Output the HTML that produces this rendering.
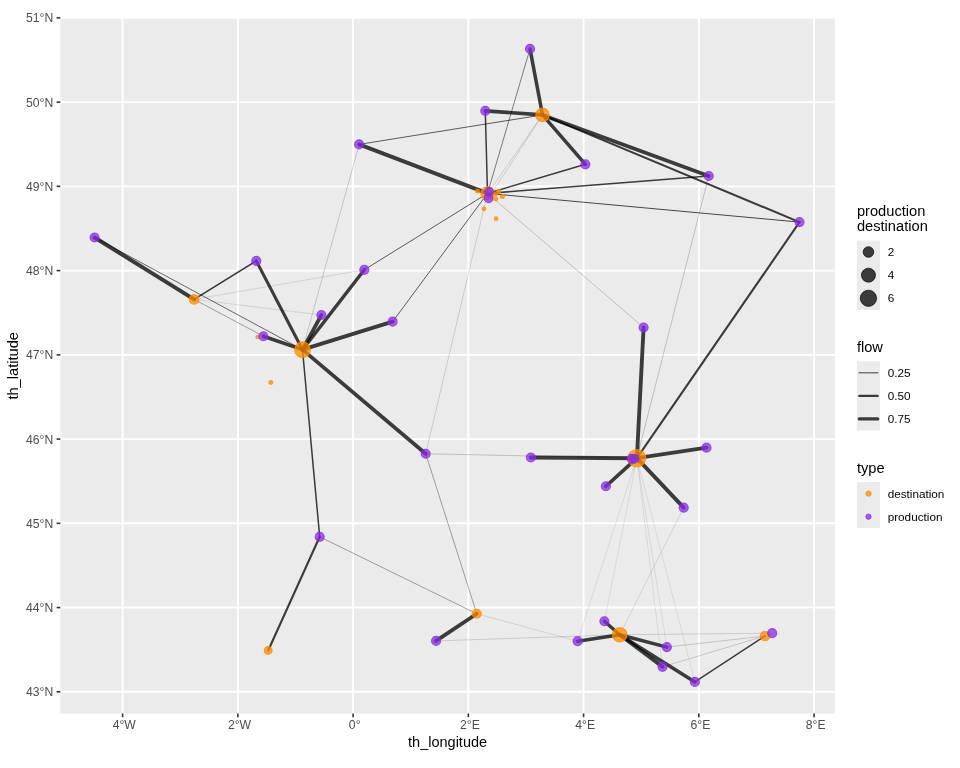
<!DOCTYPE html><html><head><meta charset="utf-8"><style>html,body{margin:0;padding:0;background:#fff;width:960px;height:768px;overflow:hidden}svg{display:block;will-change:transform}text{font-family:"Liberation Sans",sans-serif}</style></head><body>
<svg width="960" height="768" viewBox="0 0 960 768">
<rect width="960" height="768" fill="#fff"/>
<rect x="60.3" y="17.8" width="774.60" height="695.70" fill="#EBEBEB"/>
<g stroke="#fff" stroke-width="1.9">
<line x1="122.62" y1="17.8" x2="122.62" y2="713.5"/>
<line x1="237.86" y1="17.8" x2="237.86" y2="713.5"/>
<line x1="353.10" y1="17.8" x2="353.10" y2="713.5"/>
<line x1="468.34" y1="17.8" x2="468.34" y2="713.5"/>
<line x1="583.58" y1="17.8" x2="583.58" y2="713.5"/>
<line x1="698.82" y1="17.8" x2="698.82" y2="713.5"/>
<line x1="814.06" y1="17.8" x2="814.06" y2="713.5"/>
<line x1="60.3" y1="691.80" x2="834.9" y2="691.80"/>
<line x1="60.3" y1="607.56" x2="834.9" y2="607.56"/>
<line x1="60.3" y1="523.32" x2="834.9" y2="523.32"/>
<line x1="60.3" y1="439.08" x2="834.9" y2="439.08"/>
<line x1="60.3" y1="354.84" x2="834.9" y2="354.84"/>
<line x1="60.3" y1="270.60" x2="834.9" y2="270.60"/>
<line x1="60.3" y1="186.36" x2="834.9" y2="186.36"/>
<line x1="60.3" y1="102.12" x2="834.9" y2="102.12"/>
<line x1="60.3" y1="17.88" x2="834.9" y2="17.88"/>
</g>
<g stroke="#000" stroke-opacity="0.75" stroke-linecap="round">
<line x1="530.0" y1="48.9" x2="542.5" y2="114.9" stroke-width="3.487"/>
<line x1="530.0" y1="48.9" x2="487.5" y2="193.4" stroke-width="0.644"/>
<line x1="485.3" y1="110.9" x2="542.5" y2="114.9" stroke-width="3.676"/>
<line x1="485.3" y1="110.9" x2="487.5" y2="193.4" stroke-width="1.516"/>
<line x1="585.4" y1="164.3" x2="542.5" y2="114.9" stroke-width="3.487"/>
<line x1="585.4" y1="164.3" x2="487.5" y2="193.4" stroke-width="1.516"/>
<line x1="359.1" y1="144.4" x2="487.5" y2="193.4" stroke-width="3.866"/>
<line x1="359.1" y1="144.4" x2="542.5" y2="114.9" stroke-width="0.834"/>
<line x1="359.1" y1="144.4" x2="302.5" y2="349.7" stroke-width="0.227"/>
<line x1="708.75" y1="176.0" x2="542.5" y2="114.9" stroke-width="3.676"/>
<line x1="708.75" y1="176.0" x2="487.5" y2="193.4" stroke-width="1.516"/>
<line x1="708.75" y1="176.0" x2="636.9" y2="458.2" stroke-width="0.265"/>
<line x1="799.5" y1="222.1" x2="542.5" y2="114.9" stroke-width="2.085"/>
<line x1="799.5" y1="222.1" x2="487.5" y2="193.4" stroke-width="0.948"/>
<line x1="799.5" y1="222.1" x2="636.9" y2="458.2" stroke-width="2.085"/>
<line x1="489.0" y1="191.8" x2="542.5" y2="114.9" stroke-width="0.190"/>
<line x1="488.6" y1="198.2" x2="542.5" y2="114.9" stroke-width="0.190"/>
<line x1="425.7" y1="453.75" x2="487.5" y2="193.4" stroke-width="0.190"/>
<line x1="643.6" y1="327.5" x2="487.5" y2="193.4" stroke-width="0.265"/>
<line x1="364.3" y1="269.8" x2="487.5" y2="193.4" stroke-width="0.834"/>
<line x1="392.6" y1="321.7" x2="487.5" y2="193.4" stroke-width="0.834"/>
<line x1="94.6" y1="237.5" x2="194.15" y2="299.4" stroke-width="3.980"/>
<line x1="94.6" y1="237.5" x2="302.5" y2="349.7" stroke-width="0.758"/>
<line x1="256.25" y1="260.9" x2="194.15" y2="299.4" stroke-width="1.706"/>
<line x1="256.25" y1="260.9" x2="302.5" y2="349.7" stroke-width="3.108"/>
<line x1="263.4" y1="336.25" x2="194.15" y2="299.4" stroke-width="0.455"/>
<line x1="263.4" y1="336.25" x2="302.5" y2="349.7" stroke-width="3.487"/>
<line x1="364.3" y1="269.8" x2="194.15" y2="299.4" stroke-width="0.152"/>
<line x1="321.4" y1="315.0" x2="194.15" y2="299.4" stroke-width="0.152"/>
<line x1="364.3" y1="269.8" x2="302.5" y2="349.7" stroke-width="3.487"/>
<line x1="321.4" y1="315.0" x2="302.5" y2="349.7" stroke-width="3.676"/>
<line x1="392.6" y1="321.7" x2="302.5" y2="349.7" stroke-width="3.866"/>
<line x1="425.7" y1="453.75" x2="302.5" y2="349.7" stroke-width="3.676"/>
<line x1="319.7" y1="536.8" x2="302.5" y2="349.7" stroke-width="1.516"/>
<line x1="319.7" y1="536.8" x2="268.2" y2="650.45" stroke-width="2.085"/>
<line x1="319.7" y1="536.8" x2="476.8" y2="613.75" stroke-width="0.455"/>
<line x1="425.7" y1="453.75" x2="476.8" y2="613.75" stroke-width="0.455"/>
<line x1="425.7" y1="453.75" x2="636.9" y2="458.2" stroke-width="0.265"/>
<line x1="530.9" y1="457.5" x2="636.9" y2="458.2" stroke-width="4.055"/>
<line x1="643.6" y1="327.5" x2="636.9" y2="458.2" stroke-width="3.866"/>
<line x1="706.5" y1="447.7" x2="636.9" y2="458.2" stroke-width="3.866"/>
<line x1="605.9" y1="486.25" x2="636.9" y2="458.2" stroke-width="3.676"/>
<line x1="683.7" y1="507.7" x2="636.9" y2="458.2" stroke-width="3.866"/>
<line x1="577.6" y1="641.2" x2="636.9" y2="458.2" stroke-width="0.114"/>
<line x1="604.4" y1="621.25" x2="636.9" y2="458.2" stroke-width="0.114"/>
<line x1="666.9" y1="647.1" x2="636.9" y2="458.2" stroke-width="0.114"/>
<line x1="662.5" y1="666.8" x2="636.9" y2="458.2" stroke-width="0.114"/>
<line x1="694.9" y1="681.9" x2="636.9" y2="458.2" stroke-width="0.114"/>
<line x1="683.7" y1="507.7" x2="619.75" y2="634.75" stroke-width="0.152"/>
<line x1="436.05" y1="640.9" x2="476.8" y2="613.75" stroke-width="3.866"/>
<line x1="577.6" y1="641.2" x2="476.8" y2="613.75" stroke-width="0.152"/>
<line x1="436.05" y1="640.9" x2="619.75" y2="634.75" stroke-width="0.190"/>
<line x1="577.6" y1="641.2" x2="619.75" y2="634.75" stroke-width="3.487"/>
<line x1="604.4" y1="621.25" x2="619.75" y2="634.75" stroke-width="3.297"/>
<line x1="666.9" y1="647.1" x2="619.75" y2="634.75" stroke-width="3.487"/>
<line x1="662.5" y1="666.8" x2="619.75" y2="634.75" stroke-width="3.866"/>
<line x1="694.9" y1="681.9" x2="619.75" y2="634.75" stroke-width="3.487"/>
<line x1="694.9" y1="681.9" x2="765.0" y2="636.0" stroke-width="1.516"/>
<line x1="666.9" y1="647.1" x2="765.0" y2="636.0" stroke-width="0.227"/>
<line x1="662.5" y1="666.8" x2="765.0" y2="636.0" stroke-width="0.227"/>
<line x1="772.2" y1="633.2" x2="619.75" y2="634.75" stroke-width="0.190"/>
</g>
<g fill="#FF8C00" fill-opacity="0.75" stroke="#FF8C00" stroke-opacity="0.75" stroke-width="1.1">
<circle cx="542.5" cy="114.9" r="6.75"/>
<circle cx="487.5" cy="193.4" r="6.75"/>
<circle cx="477.5" cy="191.0" r="1.95"/>
<circle cx="498.8" cy="191.3" r="1.95"/>
<circle cx="495.5" cy="194.5" r="1.85"/>
<circle cx="502.4" cy="196.5" r="1.95"/>
<circle cx="495.8" cy="199.0" r="1.85"/>
<circle cx="484.0" cy="208.8" r="1.85"/>
<circle cx="496.1" cy="218.65" r="1.85"/>
<circle cx="194.15" cy="299.4" r="4.90"/>
<circle cx="302.5" cy="349.7" r="7.85"/>
<circle cx="257.6" cy="337.0" r="1.75"/>
<circle cx="270.8" cy="382.5" r="1.95"/>
<circle cx="636.9" cy="458.2" r="8.75"/>
<circle cx="268.2" cy="650.45" r="3.90"/>
<circle cx="476.8" cy="613.75" r="4.55"/>
<circle cx="619.75" cy="634.75" r="7.25"/>
<circle cx="765.0" cy="636.0" r="4.70"/>
</g>
<g fill="#8A2BE2" fill-opacity="0.75" stroke="#8A2BE2" stroke-opacity="0.75" stroke-width="1.1">
<circle cx="530.0" cy="48.9" r="4.55"/>
<circle cx="485.3" cy="110.9" r="4.55"/>
<circle cx="585.4" cy="164.3" r="4.55"/>
<circle cx="359.1" cy="144.4" r="4.55"/>
<circle cx="708.75" cy="176.0" r="4.55"/>
<circle cx="799.5" cy="222.1" r="4.55"/>
<circle cx="489.0" cy="191.8" r="4.40"/>
<circle cx="488.6" cy="198.2" r="4.40"/>
<circle cx="94.6" cy="237.5" r="4.55"/>
<circle cx="256.25" cy="260.9" r="4.55"/>
<circle cx="364.3" cy="269.8" r="4.55"/>
<circle cx="321.4" cy="315.0" r="4.55"/>
<circle cx="392.6" cy="321.7" r="4.55"/>
<circle cx="263.4" cy="336.25" r="4.55"/>
<circle cx="643.6" cy="327.5" r="4.55"/>
<circle cx="425.7" cy="453.75" r="4.55"/>
<circle cx="530.9" cy="457.5" r="4.55"/>
<circle cx="631.6" cy="458.8" r="4.45"/>
<circle cx="634.4" cy="458.8" r="4.45"/>
<circle cx="706.5" cy="447.7" r="4.55"/>
<circle cx="605.9" cy="486.25" r="4.55"/>
<circle cx="683.7" cy="507.7" r="4.55"/>
<circle cx="319.7" cy="536.8" r="4.55"/>
<circle cx="436.05" cy="640.9" r="4.55"/>
<circle cx="577.6" cy="641.2" r="4.55"/>
<circle cx="604.4" cy="621.25" r="4.55"/>
<circle cx="666.9" cy="647.1" r="4.55"/>
<circle cx="662.5" cy="666.8" r="4.55"/>
<circle cx="694.9" cy="681.9" r="4.55"/>
<circle cx="772.2" cy="633.2" r="4.55"/>
</g>
<g stroke="#333" stroke-width="1.6">
<line x1="122.62" y1="713.5" x2="122.62" y2="717.17"/>
<line x1="237.86" y1="713.5" x2="237.86" y2="717.17"/>
<line x1="353.10" y1="713.5" x2="353.10" y2="717.17"/>
<line x1="468.34" y1="713.5" x2="468.34" y2="717.17"/>
<line x1="583.58" y1="713.5" x2="583.58" y2="717.17"/>
<line x1="698.82" y1="713.5" x2="698.82" y2="717.17"/>
<line x1="814.06" y1="713.5" x2="814.06" y2="717.17"/>
<line x1="56.63" y1="691.80" x2="60.3" y2="691.80"/>
<line x1="56.63" y1="607.56" x2="60.3" y2="607.56"/>
<line x1="56.63" y1="523.32" x2="60.3" y2="523.32"/>
<line x1="56.63" y1="439.08" x2="60.3" y2="439.08"/>
<line x1="56.63" y1="354.84" x2="60.3" y2="354.84"/>
<line x1="56.63" y1="270.60" x2="60.3" y2="270.60"/>
<line x1="56.63" y1="186.36" x2="60.3" y2="186.36"/>
<line x1="56.63" y1="102.12" x2="60.3" y2="102.12"/>
<line x1="56.63" y1="17.88" x2="60.3" y2="17.88"/>
</g>
<g fill="#4D4D4D" font-size="12.2px">
<text x="124.22" y="729" text-anchor="middle">4°W</text>
<text x="239.46" y="729" text-anchor="middle">2°W</text>
<text x="354.70" y="729" text-anchor="middle">0°</text>
<text x="469.94" y="729" text-anchor="middle">2°E</text>
<text x="585.18" y="729" text-anchor="middle">4°E</text>
<text x="700.42" y="729" text-anchor="middle">6°E</text>
<text x="815.66" y="729" text-anchor="middle">8°E</text>
<text x="53.3" y="696.40" text-anchor="end">43°N</text>
<text x="53.3" y="612.16" text-anchor="end">44°N</text>
<text x="53.3" y="527.92" text-anchor="end">45°N</text>
<text x="53.3" y="443.68" text-anchor="end">46°N</text>
<text x="53.3" y="359.44" text-anchor="end">47°N</text>
<text x="53.3" y="275.20" text-anchor="end">48°N</text>
<text x="53.3" y="190.96" text-anchor="end">49°N</text>
<text x="53.3" y="106.72" text-anchor="end">50°N</text>
<text x="53.3" y="22.48" text-anchor="end">51°N</text>
</g>
<text x="447.6" y="746.5" text-anchor="middle" font-size="14.5px" fill="#000">th_longitude</text>
<text transform="translate(18.3 365.8) rotate(-90)" text-anchor="middle" font-size="14.67px" fill="#000">th_latitude</text>
<g font-size="14.67px" fill="#000">
<text x="856.9" y="215.5">production</text><text x="856.9" y="231.2">destination</text>
<text x="856.9" y="351.7">flow</text><text x="856.9" y="472.7">type</text>
</g>
<g fill="#EBEBEB">
<rect x="856.9" y="240.8" width="23.04" height="69.12"/>
<rect x="856.9" y="361.3" width="23.04" height="69.12"/>
<rect x="856.9" y="482.0" width="23.04" height="46.08"/>
</g>
<g fill="#000" fill-opacity="0.75" stroke="#000" stroke-opacity="0.75" stroke-width="0.9">
<circle cx="868.45" cy="252.0" r="5.30"/>
<circle cx="868.45" cy="275.2" r="7.00"/>
<circle cx="868.45" cy="298.3" r="8.15"/>
</g>
<g stroke="#000" stroke-opacity="0.76" stroke-linecap="round">
<line x1="859.2" y1="372.8" x2="877.8" y2="372.8" stroke-width="1.6" stroke-opacity="0.5"/>
<line x1="859.2" y1="395.9" x2="877.8" y2="395.9" stroke-width="2.1" stroke-opacity="0.75"/>
<line x1="859.2" y1="418.9" x2="877.8" y2="418.9" stroke-width="3.1" stroke-opacity="0.75"/>
</g>
<circle cx="868.5" cy="493.6" r="2.7" fill="#FF8C00" fill-opacity="0.75" stroke="#FF8C00" stroke-opacity="0.75" stroke-width="0.9"/>
<circle cx="868.5" cy="516.7" r="2.7" fill="#8A2BE2" fill-opacity="0.75" stroke="#8A2BE2" stroke-opacity="0.75" stroke-width="0.9"/>
<g font-size="11.73px" fill="#000">
<text x="887.7" y="256.15">2</text>
<text x="887.7" y="279.35">4</text>
<text x="887.7" y="302.45">6</text>
<text x="887.7" y="376.95">0.25</text>
<text x="887.7" y="400.05">0.50</text>
<text x="887.7" y="423.05">0.75</text>
<text x="887.7" y="497.75">destination</text>
<text x="887.7" y="520.85">production</text>
</g>
</svg></body></html>
